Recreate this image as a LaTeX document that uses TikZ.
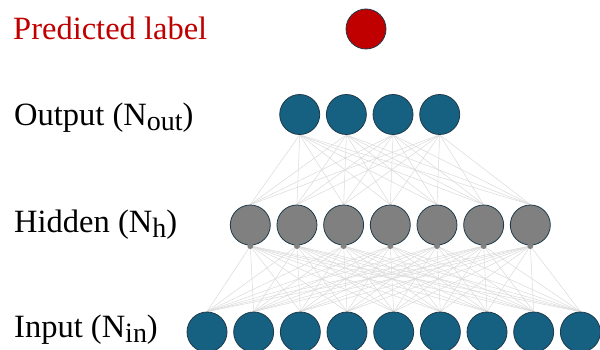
\documentclass[tikz,border=0pt]{standalone}
\usepackage{fontspec}
\setmainfont{Liberation Serif}
\usetikzlibrary{backgrounds}
\definecolor{nblue}{RGB}{22,96,130}
\definecolor{ngray}{RGB}{128,128,128}
\definecolor{nred}{RGB}{192,0,0}
\definecolor{nline}{RGB}{30,58,74}
\definecolor{edgec}{RGB}{218,218,218}
\newcommand{\lsub}[1]{\raisebox{-4.5pt}{\fontsize{28}{28}\selectfont #1}}
\begin{document}
\begin{tikzpicture}[x=1pt,y=-1pt,
  neuron/.style={circle,draw=nline,line width=0.8pt,minimum size=40pt,inner sep=0pt},
  dotn/.style={circle,fill=ngray,minimum size=6pt,inner sep=0pt},
  edge/.style={draw=edgec,line width=0.5pt},
  lbl/.style={anchor=base west,inner sep=0pt,font=\fontsize{32.5}{32.5}\selectfont}]
\useasboundingbox (0,0) rectangle (600,350);
\node[lbl,text=nred] (tp) at (13,40) {Predicted label};
\node[lbl] (to) at (14,126) {Output (N\lsub{out})};
\node[lbl] (th) at (14,233) {Hidden (N\lsub{h})};
\node[lbl] (ti) at (14,337.5) {Input (N\lsub{in})};
\node[neuron,fill=nred] (p) at (366,29) {};
\foreach \i in {1,...,4}
  \node[neuron,fill=nblue] (o\i) at ({299.7+46.67*(\i-1)},114.5) {};
\foreach \i in {1,...,7} {
  \node[neuron,fill=ngray] (h\i) at ({250.3+46.67*(\i-1)},225) {};
  \node[dotn] (d\i) at ({250.3+46.67*(\i-1)},246) {};
}
\foreach \i in {1,...,9}
  \node[neuron,fill=nblue] (in\i) at ({207+46.67*(\i-1)},332) {};
\begin{scope}[on background layer]
  \foreach \i in {1,...,4}
    \foreach \j in {1,...,7}
      \draw[edge] (o\i.south) -- (h\j.north);
  \foreach \j in {1,...,7}
    \foreach \k in {1,...,9}
      \draw[edge] (d\j.center) -- (in\k.north);
\end{scope}
\end{tikzpicture}
\end{document}
